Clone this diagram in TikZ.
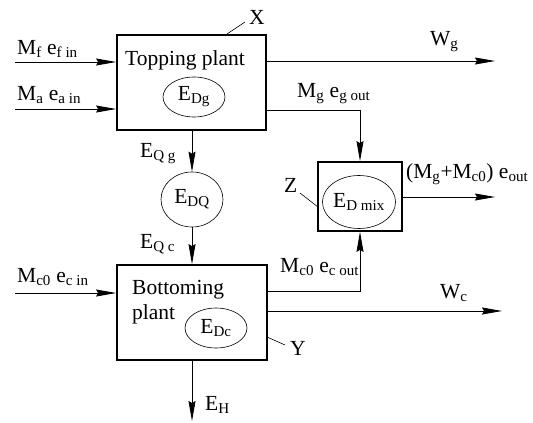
\documentclass[tikz,border=0pt]{standalone}
\usepackage{fontspec}
\setmainfont{Liberation Serif}
\usetikzlibrary{shapes.geometric, arrows.meta}
\newcommand{\sbs}[1]{\textsubscript{#1}}

\begin{document}
\begin{tikzpicture}[x=1pt, y=-1pt, >={Stealth[length=20pt, width=7pt, inset=2pt]},
    font=\fontsize{21.5}{25}\selectfont,
    plant/.style={draw, line width=1.8pt, inner sep=0pt},
    loss/.style={draw, ellipse, line width=0.6pt, inner sep=0pt},
    lbl/.style={inner sep=0pt, anchor=base west},
    flow/.style={line width=0.8pt}]
    \useasboundingbox (0,0) rectangle (533,423);

    % Plants
    \node[plant, minimum width=149pt, minimum height=95pt] (tp) at (191.5,82.5) {};
    \node[plant, minimum width=150pt, minimum height=95pt] (bp) at (192,312.5) {};
    \node[plant, minimum width=84pt, minimum height=69pt] (mix) at (360,196.5) {};
    \node[lbl] (tptext) at (125,65) {Topping plant};
    \node[lbl] (bptext1) at (132,294) {Bottoming};
    \node[lbl] (bptext2) at (132,319) {plant};

    % Exergy destruction
    \node[loss, minimum width=62pt, minimum height=40pt] (edg) at (194,97) {E\sbs{Dg}};
    \node[loss, minimum width=62pt, minimum height=55pt] (edq) at (192,199.5) {E\sbs{DQ}};
    \node[loss, minimum width=62pt, minimum height=40pt] (edc) at (216,328) {E\sbs{Dc}};
    \node[loss, minimum width=63pt, minimum height=53pt] (edmix) at (359,202) {E\sbs{D mix}};

    % Free ends
    \coordinate (fin) at (15,62);
    \coordinate (ain) at (15,109);
    \coordinate (cin) at (15,293);
    \coordinate (wg) at (495,61);
    \coordinate (wc) at (502,311);
    \coordinate (out) at (495,197);
    \coordinate (eh) at (192,421);
    \coordinate (gout) at (266,110);
    \coordinate (cout) at (267,291);

    % Streams
    \draw[flow, ->] (fin) -- (fin -| tp.west);
    \draw[flow, ->] (ain) -- (ain -| tp.west);
    \draw[flow, ->] (cin) -- (cin -| bp.west);
    \draw[flow, ->] (wg -| tp.east) -- (wg);
    \draw[flow, ->] (wc -| bp.east) -- (wc);
    \draw[flow, ->] (gout) -| (mix.north);
    \draw[flow, ->] (cout) -| (mix.south);
    \draw[flow, ->] (mix.east |- out) -- (out);
    \draw[flow, ->] (edq |- tp.south) -- (edq.north);
    \draw[flow, ->] (edq.south) -- (edq |- bp.north);
    \draw[flow, ->] (edq |- bp.south) -- (eh);

    % Labels
    \node[lbl] (lfin) at (17,54) {M\sbs{f} e\sbs{f in}};
    \node[lbl] (lain) at (17,100) {M\sbs{a} e\sbs{a in}};
    \node[lbl] (lcin) at (17,282) {M\sbs{c0} e\sbs{c in}};
    \node[lbl] (lwg) at (430,45) {W\sbs{g}};
    \node[lbl] (lwc) at (440,298) {W\sbs{c}};
    \node[lbl] (lgout) at (297,97) {M\sbs{g} e\sbs{g out}};
    \node[lbl] (lcout) at (280,272) {M\sbs{c0} e\sbs{c out}};
    \node[lbl] (lout) at (406,178) {(M\sbs{g}+M\sbs{c0}) e\sbs{out}};
    \node[lbl] (lqg) at (140,157) {E\sbs{Q g}};
    \node[lbl] (lqc) at (140,248) {E\sbs{Q c}};
    \node[lbl] (leh) at (205,410) {E\sbs{H}};

    % Plant tags
    \node[lbl] (tx) at (249,24) {X};
    \node[lbl] (ty) at (290,355) {Y};
    \node[lbl] (tz) at (284,192) {Z};
    \draw[line width=0.6pt] (227,34) -- (245,22);
    \draw[line width=0.6pt] (267,337) -- (285,345);
    \draw[line width=0.6pt] (300,193) -- (318,207);
\end{tikzpicture}
\end{document}
